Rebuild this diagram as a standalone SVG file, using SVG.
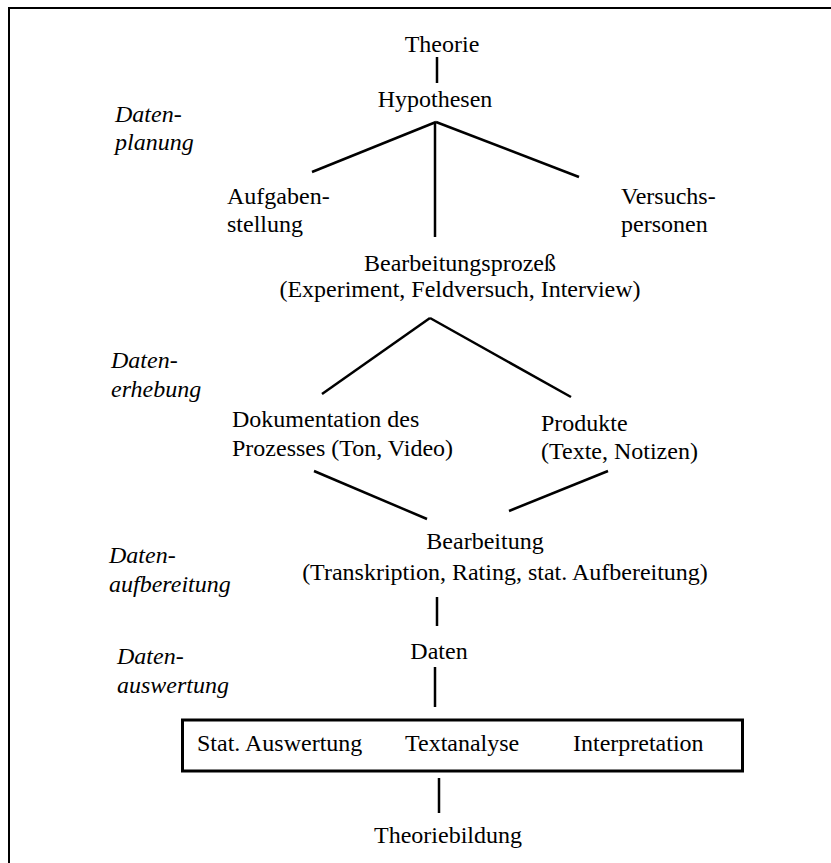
<svg xmlns="http://www.w3.org/2000/svg" width="831" height="863" viewBox="0 0 831 863">
  <style>
    .t { font-family: "Liberation Serif", "DejaVu Serif", serif; font-size: 24px; fill: #000; }
    .c { text-anchor: middle; }
    .phase { font-style: italic; }
    .edge { stroke: #000; stroke-width: 2.5; fill: none; stroke-linecap: butt; }
    .frame { stroke: #000; stroke-width: 2; fill: none; }
  </style>
  <rect width="831" height="863" fill="#fff"/>

  <!-- outer frame (top and left edges) -->
  <path class="frame" d="M9,863 V8 H831"/>

  <!-- phase labels -->
  <g id="phase-planung" class="t phase">
    <text x="115" y="122">Daten-</text>
    <text x="115" y="150">planung</text>
  </g>
  <g id="phase-erhebung" class="t phase">
    <text x="111" y="368">Daten-</text>
    <text x="111" y="397">erhebung</text>
  </g>
  <g id="phase-aufbereitung" class="t phase">
    <text x="109" y="563">Daten-</text>
    <text x="109" y="592">aufbereitung</text>
  </g>
  <g id="phase-auswertung" class="t phase">
    <text x="117" y="664">Daten-</text>
    <text x="117" y="693">auswertung</text>
  </g>

  <!-- connectors -->
  <g id="connectors" class="edge">
    <line x1="437" y1="57" x2="437" y2="83"/>
    <line x1="436" y1="122" x2="312" y2="172"/>
    <line x1="436" y1="122" x2="579" y2="177"/>
    <line x1="435" y1="122" x2="435" y2="237"/>
    <line x1="430" y1="318" x2="322" y2="394"/>
    <line x1="430" y1="318" x2="571" y2="397"/>
    <line x1="314" y1="471" x2="427" y2="519"/>
    <line x1="608" y1="471" x2="509" y2="511"/>
    <line x1="437" y1="597" x2="437" y2="626"/>
    <line x1="435" y1="667" x2="435" y2="707"/>
    <line x1="439" y1="778" x2="439" y2="813"/>
  </g>

  <!-- nodes -->
  <g id="theorie" class="t c"><text x="442" y="52">Theorie</text></g>
  <g id="hypothesen" class="t c"><text x="435" y="107">Hypothesen</text></g>
  <g id="aufgabenstellung" class="t">
    <text x="227" y="204">Aufgaben-</text>
    <text x="227" y="232">stellung</text>
  </g>
  <g id="versuchspersonen" class="t">
    <text x="621" y="204">Versuchs-</text>
    <text x="621" y="232">personen</text>
  </g>
  <g id="bearbeitungsprozess" class="t c">
    <text x="460" y="271">Bearbeitungsprozeß</text>
    <text x="460" y="297">(Experiment, Feldversuch, Interview)</text>
  </g>
  <g id="dokumentation" class="t">
    <text x="232" y="427">Dokumentation des</text>
    <text x="232" y="456">Prozesses (Ton, Video)</text>
  </g>
  <g id="produkte" class="t">
    <text x="541" y="431">Produkte</text>
    <text x="541" y="459">(Texte, Notizen)</text>
  </g>
  <g id="bearbeitung" class="t c">
    <text x="485" y="549">Bearbeitung</text>
    <text x="505" y="580">(Transkription, Rating, stat. Aufbereitung)</text>
  </g>
  <g id="daten" class="t c"><text x="439" y="659">Daten</text></g>
  <g id="auswertung">
    <rect x="182.5" y="720" width="560" height="51" fill="none" stroke="#000" stroke-width="3"/>
    <text class="t" x="197" y="751">Stat. Auswertung</text>
    <text class="t" x="405" y="751">Textanalyse</text>
    <text class="t" x="573" y="751">Interpretation</text>
  </g>
  <g id="theoriebildung" class="t c"><text x="448" y="843">Theoriebildung</text></g>
</svg>
